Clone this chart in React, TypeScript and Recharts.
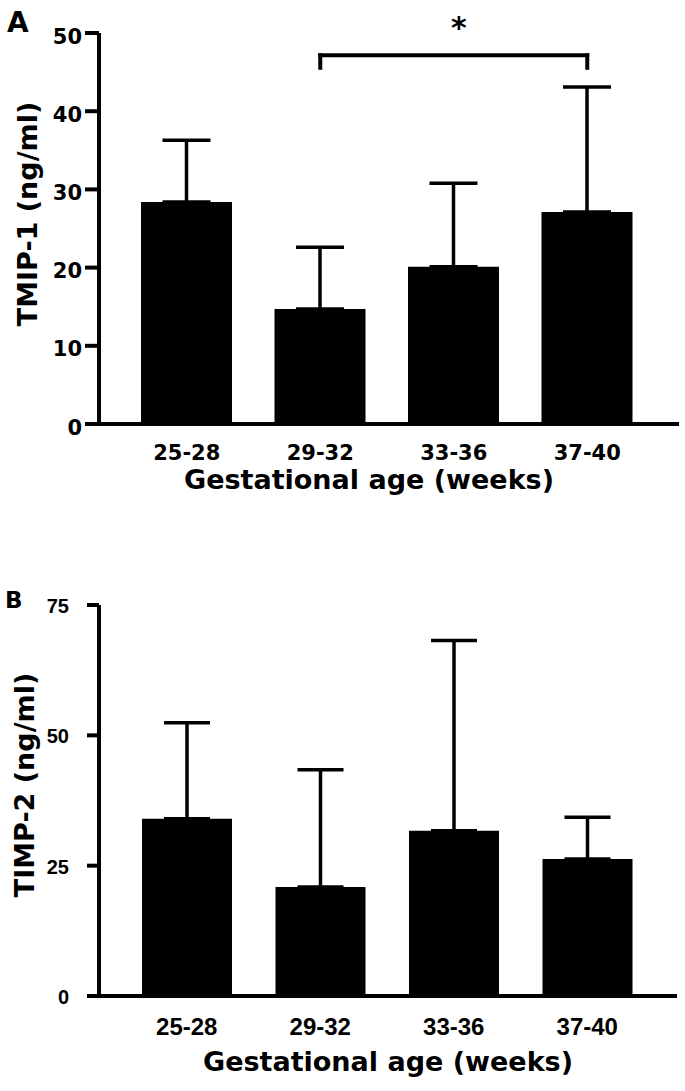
import { BarChart, Bar, XAxis, YAxis, ErrorBar, ReferenceLine, Label } from "recharts"

const ageGroups = ["25-28", "29-32", "33-36", "37-40"]

// panel A: TMIP-1 (ng/ml), mean and upper SD
const timp1Mean = [28.4, 14.7, 20.1, 27.1]
const timp1Sd = [7.9, 7.9, 10.7, 16.0]
const timp1Ticks = [0, 10, 20, 30, 40, 50]

// panel B: TIMP-2 (ng/ml)
const timp2Mean = [34.0, 20.9, 31.7, 26.3]
const timp2Sd = [18.4, 22.5, 36.5, 8.0]
const timp2Ticks = [0, 25, 50, 75]

// significance bracket between 29-32 and 37-40
const bracketFrom = "29-32"
const bracketTo = "37-40"
const bracketTop = 47.15
const bracketFoot = 45.55

const DEJAVU = "'DejaVu Sans', sans-serif"
const ARIAL = "'Liberation Sans', Arial, sans-serif"

const timp1Data = ageGroups.map((age, i) => ({ age, mean: timp1Mean[i], err: [0, timp1Sd[i]] }))
const timp2Data = ageGroups.map((age, i) => ({ age, mean: timp2Mean[i], err: [0, timp2Sd[i]] }))

const axisStroke = { stroke: "#000", strokeWidth: 4 }

// tick text drawn by hand so font family / size stick
function tickText(font: string, size: number, shift: number) {
  return (p: any) => (
    <text
      x={p.x}
      y={p.y}
      dy={size * shift}
      textAnchor={p.textAnchor}
      fontFamily={font}
      fontSize={size}
      fontWeight="bold"
      fill="#000"
    >
      {p.payload.value}
    </text>
  )
}

function xTitle(cx: number, baseline: number) {
  return () => (
    <text x={cx} y={baseline} textAnchor="middle" fontFamily={DEJAVU} fontWeight="bold" fontSize={27} fill="#000">
      Gestational age (weeks)
    </text>
  )
}

function yTitle(text: string, cx: number, cy: number) {
  return () => (
    <text
      x={cx}
      y={cy}
      transform={`rotate(-90 ${cx} ${cy})`}
      textAnchor="middle"
      dominantBaseline="central"
      fontFamily={DEJAVU}
      fontWeight="bold"
      fontSize={27}
      fill="#000"
    >
      {text}
    </text>
  )
}

const star = (props: any) => {
  const vb = props.viewBox || {}
  return (
    <text x={vb.x + vb.width / 2 + 5} y={vb.y - 17} textAnchor="middle" fontFamily={DEJAVU} fontWeight="bold" fontSize={30} fill="#000">
      *
    </text>
  )
}

export default function App() {
  return (
    <div style={{ position: "absolute", left: 0, top: 0, width: 685, height: 1091, background: "#fff" }}>
      <div style={{ position: "absolute", left: 0, top: 0 }}>
        <BarChart width={685} height={500} data={timp1Data} margin={{ top: 33, right: 6, bottom: 0, left: 0 }}>
          <XAxis
            dataKey="age"
            height={76}
            padding={{ left: 21, right: 25 }}
            interval={0}
            tickLine={false}
            tickSize={0}
            tickMargin={21}
            axisLine={axisStroke}
            tick={tickText(DEJAVU, 21, 0.72)}
          >
            <Label content={xTitle(369, 489)} />
          </XAxis>
          <YAxis
            width={99}
            domain={[0, 50]}
            ticks={timp1Ticks}
            interval={0}
            axisLine={axisStroke}
            tickLine={axisStroke}
            tickSize={14}
            tickMargin={3}
            tick={tickText(DEJAVU, 21, 0.5)}
          >
            <Label content={yTitle("TMIP-1 (ng/ml)", 27, 214)} />
          </YAxis>
          <Bar dataKey="mean" fill="#000" barSize={91} isAnimationActive={false}>
            <ErrorBar dataKey="err" direction="y" width={24} stroke="#000" strokeWidth={3.5} isAnimationActive={false} />
          </Bar>
          <ReferenceLine
            segment={[{ x: bracketFrom, y: bracketTop }, { x: bracketTo, y: bracketTop }]}
            stroke="#000"
            strokeWidth={4}
            strokeLinecap="square"
          >
            <Label content={star} />
          </ReferenceLine>
          <ReferenceLine
            segment={[{ x: bracketFrom, y: bracketTop }, { x: bracketFrom, y: bracketFoot }]}
            stroke="#000"
            strokeWidth={4}
            strokeLinecap="square"
          />
          <ReferenceLine
            segment={[{ x: bracketTo, y: bracketTop }, { x: bracketTo, y: bracketFoot }]}
            stroke="#000"
            strokeWidth={4}
            strokeLinecap="square"
          />
        </BarChart>
      </div>

      <div style={{ position: "absolute", left: 0, top: 560 }}>
        <BarChart width={685} height={531} data={timp2Data} margin={{ top: 45, right: 8, bottom: 0, left: 0 }}>
          <XAxis
            dataKey="age"
            height={95}
            padding={{ left: 21, right: 23 }}
            interval={0}
            tickLine={false}
            tickSize={0}
            tickMargin={22}
            axisLine={axisStroke}
            tick={tickText(ARIAL, 24, 0.72)}
          >
            <Label content={xTitle(388, 511)} />
          </XAxis>
          <YAxis
            width={99}
            domain={[0, 75]}
            ticks={timp2Ticks}
            interval={0}
            axisLine={axisStroke}
            tickLine={axisStroke}
            tickSize={12}
            tickMargin={18}
            tick={tickText(ARIAL, 20, 0.4)}
          >
            <Label content={yTitle("TIMP-2 (ng/ml)", 24, 225)} />
          </YAxis>
          <Bar dataKey="mean" fill="#000" barSize={90} isAnimationActive={false}>
            <ErrorBar dataKey="err" direction="y" width={23} stroke="#000" strokeWidth={3.5} isAnimationActive={false} />
          </Bar>
        </BarChart>
      </div>

      <svg width={685} height={1091} style={{ position: "absolute", left: 0, top: 0, pointerEvents: "none" }}>
        <text x={7} y={32} fontFamily={DEJAVU} fontWeight="bold" fontSize={28} fill="#000">A</text>
        <text x={5} y={608} fontFamily={DEJAVU} fontWeight="bold" fontSize={23} fill="#000">B</text>
      </svg>
    </div>
  )
}
